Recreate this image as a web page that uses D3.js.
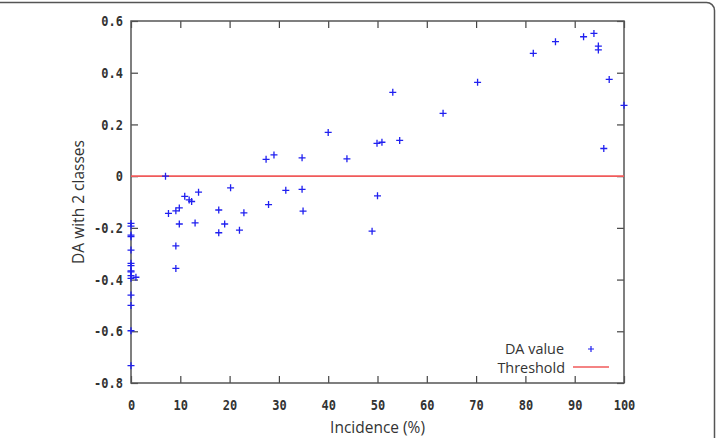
<!DOCTYPE html>
<html>
<head>
<meta charset="utf-8">
<script src="https://cdn.jsdelivr.net/npm/d3@7"></script>
<style>
  body { margin: 0; background: #fff; }
  .tick text { font-family: "DejaVu Sans Mono", monospace; font-size: 12px; font-weight: bold; fill: #333; }
  .axis-title, .legend text { font-family: "Open Sans", "DejaVu Sans", sans-serif; fill: #333; }
</style>
</head>
<body>
<div id="chart-area"></div>
<script>

// Incidence (%) of each sample
var incidence = [
  0, 0, 0, 0, 0, 0, 0, 0, 0, 0, 1.0, 0, 0, 0, 0, 0,
  7.0, 7.6, 9.1, 9.8, 9.8, 9.1, 9.1, 10.9, 11.8, 12.3, 13.7, 13.0,
  17.8, 17.8, 19.0, 20.2, 22.0, 22.9, 27.4, 29.0, 27.9, 31.4, 34.7, 34.7,
  34.9, 40.0, 43.8, 48.9, 49.9, 50.9, 50.0, 53.1, 54.5, 63.3, 70.3,
  81.6, 86.1, 91.8, 93.9, 94.8, 94.8, 97.0, 100.0, 95.9
];

// DA value with 2 classes
var daValue = [
  -0.183, -0.193, -0.228, -0.234, -0.286, -0.337, -0.346, -0.366, -0.370, -0.385, -0.391, -0.395, -0.460, -0.500, -0.598, -0.733,
  0.0, -0.144, -0.134, -0.123, -0.185, -0.270, -0.357, -0.078, -0.092, -0.098, -0.062, -0.181,
  -0.131, -0.219, -0.185, -0.045, -0.209, -0.142, 0.065, 0.082, -0.110, -0.055, -0.051, 0.071,
  -0.135, 0.169, 0.067, -0.213, 0.127, 0.131, -0.076, 0.324, 0.138, 0.243, 0.363,
  0.475, 0.520, 0.539, 0.552, 0.503, 0.488, 0.374, 0.274, 0.107
];

var threshold = 0;

// Tick values
var xTicks = [0, 10, 20, 30, 40, 50, 60, 70, 80, 90, 100];
var yTicks = [-0.8, -0.6, -0.4, -0.2, 0, 0.2, 0.4, 0.6];

var legendLabels = ["DA value", "Threshold"];

// SVG size
var width = 716,
    height = 438;

var svg = d3.select("#chart-area").append("svg")
    .attr("width", width)
    .attr("height", height);

// Outer frame (top and right edge with rounded corner)
svg.append("path")
    .attr("d", "M0,2.5 H706 A8,8 0 0 1 714.5,10.5 V438")
    .attr("fill", "none")
    .attr("stroke", "#555")
    .attr("stroke-width", 1.5);

// Plot area
var plotLeft = 131, plotRight = 624, plotTop = 21, plotBottom = 383;

var x = d3.scaleLinear().domain([0, 100]).range([plotLeft, plotRight]);
var y = d3.scaleLinear().domain([-0.8, 0.6]).range([plotBottom, plotTop]);

var textStretch = 1.2;

// Axes (ticks pointing inwards, like gnuplot)
var xAxis = d3.axisBottom(x).tickValues(xTicks)
    .tickSizeInner(-7).tickSizeOuter(0).tickPadding(14)
    .tickFormat(d3.format("d"));

var xAxisTop = d3.axisTop(x).tickValues(xTicks)
    .tickSizeInner(-7).tickSizeOuter(0).tickFormat("");

var yAxis = d3.axisLeft(y).tickValues(yTicks)
    .tickSizeInner(-7).tickSizeOuter(0).tickPadding(8)
    .tickFormat(function(d) { return d === 0 ? "0" : d.toFixed(1); });

var yAxisRight = d3.axisRight(y).tickValues(yTicks)
    .tickSizeInner(-7).tickSizeOuter(0).tickFormat("");

function styleAxis(g) {
  g.select(".domain").remove();
  g.selectAll(".tick line").attr("stroke", "#444").attr("stroke-width", 1.2);
}

svg.append("g").attr("class", "x axis")
    .attr("transform", "translate(0," + plotBottom + ")")
    .call(xAxis).call(styleAxis)
    .selectAll("text")
      .attr("transform", "scale(1," + textStretch + ")");

svg.append("g").attr("class", "x axis top")
    .attr("transform", "translate(0," + plotTop + ")")
    .call(xAxisTop).call(styleAxis);

svg.append("g").attr("class", "y axis")
    .attr("transform", "translate(" + plotLeft + ",0)")
    .call(yAxis).call(styleAxis)
    .selectAll("text")
      .attr("transform", "scale(1," + textStretch + ")");

svg.append("g").attr("class", "y axis right")
    .attr("transform", "translate(" + plotRight + ",0)")
    .call(yAxisRight).call(styleAxis);

// Border of the plot
svg.append("rect")
    .attr("x", plotLeft).attr("y", plotTop)
    .attr("width", plotRight - plotLeft).attr("height", plotBottom - plotTop)
    .attr("fill", "none")
    .attr("stroke", "#555")
    .attr("stroke-width", 1.5);

// Threshold line
svg.append("line")
    .attr("x1", x(0)).attr("x2", x(100))
    .attr("y1", y(threshold)).attr("y2", y(threshold))
    .attr("stroke", "#f05a5a")
    .attr("stroke-width", 1.8);

// Points as plus signs
var data = incidence.map(function(d, i) { return { inc: d, da: daValue[i] }; });
var s = 3.5;

svg.append("g").selectAll("path.pt")
    .data(data)
    .enter()
    .append("path")
    .attr("class", "pt")
    .attr("d", function(d) {
      var cx = x(d.inc), cy = y(d.da);
      return "M" + (cx - s) + "," + cy + "H" + (cx + s) +
             "M" + cx + "," + (cy - s) + "V" + (cy + s);
    })
    .attr("stroke", "#2020f0")
    .attr("stroke-width", 1.3)
    .attr("fill", "none");

// Axis titles
svg.append("text")
    .attr("class", "axis-title")
    .attr("transform", "translate(377.5,433) scale(1,1.1)")
    .attr("text-anchor", "middle")
    .style("font-size", "15.5px")
    .text("Incidence (%)");

svg.append("text")
    .attr("class", "axis-title")
    .attr("transform", "translate(84,202) rotate(-90)")
    .attr("text-anchor", "middle")
    .style("font-size", "15.5px")
    .text("DA with 2 classes");

// Legend
var legend = svg.append("g").attr("class", "legend");

legend.append("text")
    .attr("transform", "translate(564,354) scale(1.03,1.05)")
    .attr("text-anchor", "end")
    .style("font-size", "14px")
    .text(legendLabels[0]);

legend.append("path")
    .attr("d", "M" + (591 - 3) + ",349H" + (591 + 3) + "M591," + (349 - 3) + "V" + (349 + 3))
    .attr("stroke", "#2020f0")
    .attr("stroke-width", 1.2);

legend.append("text")
    .attr("transform", "translate(565,372.5) scale(1.03,1.05)")
    .attr("text-anchor", "end")
    .style("font-size", "14px")
    .text(legendLabels[1]);

legend.append("line")
    .attr("x1", 573).attr("x2", 609)
    .attr("y1", 367).attr("y2", 367)
    .attr("stroke", "#f05a5a")
    .attr("stroke-width", 1.6);

</script>
</body>
</html>
